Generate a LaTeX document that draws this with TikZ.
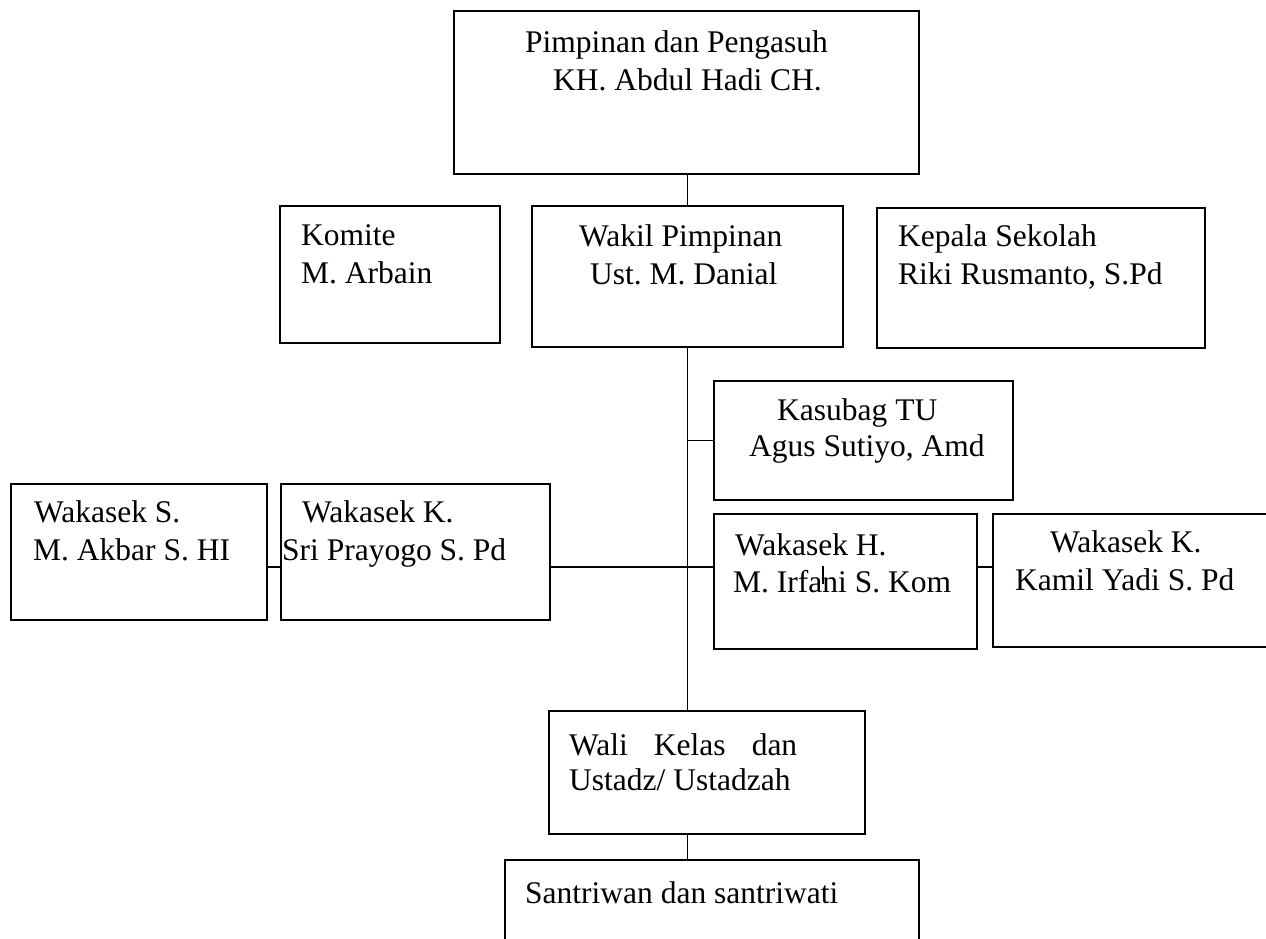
\documentclass[tikz,border=0pt]{standalone}
\usepackage{fontspec}
\setmainfont{Liberation Serif}
\frenchspacing
\begin{document}
\begin{tikzpicture}[x=1pt,y=-1pt,
  box/.style={draw, line width=1.8pt, inner sep=0pt, anchor=north west},
  txt/.style={anchor=base west, inner sep=0pt, font=\fontsize{31.5}{37.5}\selectfont},
  conn/.style={line width=1.8pt}]
\useasboundingbox (0,0) rectangle (1266,939);
% boxes
\node[box, minimum width=465pt, minimum height=163pt] (top) at (453,10) {};
\node[box, minimum width=220pt, minimum height=137pt] (komite) at (279,205) {};
\node[box, minimum width=311pt, minimum height=141pt] (wakil) at (531,205) {};
\node[box, minimum width=328pt, minimum height=140pt] (kepala) at (876,207) {};
\node[box, minimum width=299pt, minimum height=119pt] (kasubag) at (713,380) {};
\node[box, minimum width=256pt, minimum height=136pt] (wks) at (10,483) {};
\node[box, minimum width=269pt, minimum height=136pt] (wkk) at (280,483) {};
\node[box, minimum width=263pt, minimum height=135pt] (wkh) at (713,513) {};
\node[box, minimum width=300pt, minimum height=133pt] (wkr) at (992,513) {};
\node[box, minimum width=316pt, minimum height=123pt] (wali) at (548,710) {};
\node[box, minimum width=414pt, minimum height=120pt] (santri) at (504,859) {};
% texts
\node[txt] (ttop1) at (525,53) {Pimpinan dan Pengasuh};
\node[txt] (ttop2) at (553,91) {KH. Abdul Hadi CH.};
\node[txt] (tkom1) at (301,245) {Komite};
\node[txt] (tkom2) at (301,283) {M. Arbain};
\node[txt] (twak1) at (579,246) {Wakil Pimpinan};
\node[txt] (twak2) at (590,284) {Ust. M. Danial};
\node[txt] (tkep1) at (898,246) {Kepala Sekolah};
\node[txt] (tkep2) at (898,284) {Riki Rusmanto, S.Pd};
\node[txt] (tkas1) at (777,420) {Kasubag TU};
\node[txt] (tkas2) at (749,456) {Agus Sutiyo, Amd};
\node[txt] (twks1) at (34,522) {Wakasek S.};
\node[txt] (twks2) at (33,560) {M. Akbar S. HI};
\node[txt] (twkk1) at (302,522) {Wakasek K.};
\node[txt] (twkk2) at (282,560) {Sri Prayogo S. Pd};
\node[txt] (twkh1) at (735,555) {Wakasek H.};
\node[txt] (twkh2) at (733,592) {M. Irfani S. Kom};
\node[txt] (twkr1) at (1050,552) {Wakasek K.};
\node[txt] (twkr2) at (1015,590) {Kamil Yadi S. Pd};
\node[txt] (twal1) at (569,755) {\makebox[228pt][s]{Wali Kelas dan}};
\node[txt] (twal2) at (569,790) {Ustadz/ Ustadzah};
\node[txt] (tsan1) at (525,903) {Santriwan dan santriwati};
% connectors
\coordinate (j) at (686,567);
\draw[conn] (wakil.north |- top.south) -- (wakil.north);
\draw[conn] (wakil.south) -- (wakil.south |- wali.north);
\draw[conn] (kasubag.west) -- (kasubag.west -| wakil.south);
\draw[conn] (wkk.east |- j) -- (wkh.west |- j);
\draw[conn] (wks.east |- j) -- (wkk.west |- j);
\draw[conn] (wkh.east |- j) -- (wkr.west |- j);
\draw[conn] (wali.south -| wakil.south) -- (santri.north -| wakil.south);
% stray tick inside the Irfani text
\draw[line width=1.2pt] ([xshift=110pt,yshift=-53pt]wkh.north west) -- ([xshift=110pt,yshift=-71pt]wkh.north west);
\end{tikzpicture}
\end{document}
